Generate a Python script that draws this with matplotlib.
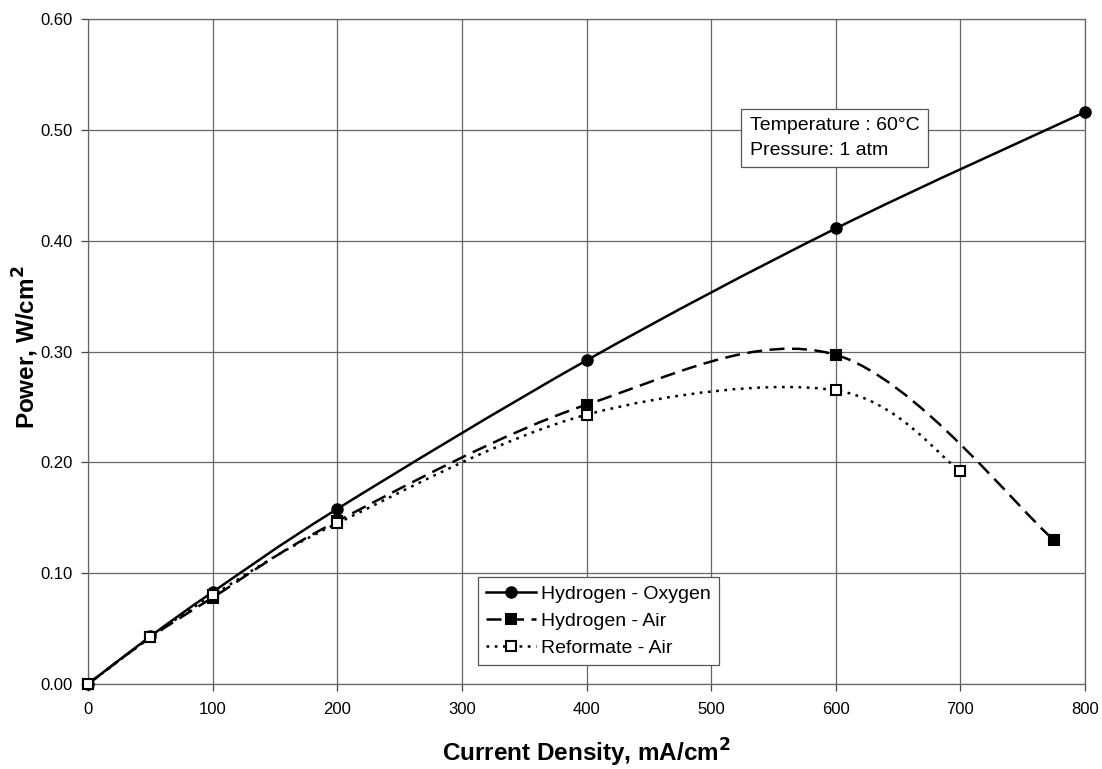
import matplotlib.pyplot as plt
import numpy as np
from matplotlib.path import Path
from matplotlib.patches import PathPatch
from matplotlib.lines import Line2D

plt.rcParams['font.family'] = ['Liberation Sans', 'DejaVu Sans']

# data
h2_o2_x = [0, 50, 100, 200, 400, 600, 800]
h2_o2_y = [0.0, 0.043, 0.083, 0.158, 0.292, 0.411, 0.516]

h2_air_x = [0, 50, 100, 200, 400, 600, 775]
h2_air_y = [0.0, 0.042, 0.078, 0.147, 0.252, 0.297, 0.130]

ref_air_x = [0, 50, 100, 200, 400, 600, 700]
ref_air_y = [0.0, 0.042, 0.080, 0.145, 0.243, 0.265, 0.192]

x_ticks = [0, 100, 200, 300, 400, 500, 600, 700, 800]
y_ticks = [0.0, 0.1, 0.2, 0.3, 0.4, 0.5, 0.6]


def smooth_path(xs, ys):
    # Excel style smoothed line: cubic bezier through the points
    p = np.column_stack([xs, ys]).astype(float)
    verts = [p[0]]
    codes = [Path.MOVETO]
    n = len(p)
    for i in range(n - 1):
        p0 = p[i - 1] if i > 0 else p[i]
        p1 = p[i]
        p2 = p[i + 1]
        p3 = p[i + 2] if i + 2 < n else p[i + 1]
        c1 = p1 + (p2 - p0) / 6.0
        c2 = p2 - (p3 - p1) / 6.0
        verts += [c1, c2, p2]
        codes += [Path.CURVE4] * 3
    return Path(verts, codes)


fig = plt.figure(figsize=(11.02, 7.69), dpi=100)
ax = fig.add_axes([0.0799, 0.1105, 0.9047, 0.8648])

lw = 1.8
series = [
    (h2_o2_x, h2_o2_y, '-', 'o', 'black', 'Hydrogen - Oxygen'),
    (h2_air_x, h2_air_y, (0, (6, 3)), 's', 'black', 'Hydrogen - Air'),
    (ref_air_x, ref_air_y, (0, (1.1, 2.2)), 's', 'white', 'Reformate - Air'),
]

handles = []
for xs, ys, ls, mk, fc, name in series:
    ax.add_patch(PathPatch(smooth_path(xs, ys), fill=False, lw=lw,
                           ls=ls, edgecolor='black', zorder=3))
    ms = 7.5 if mk == 'o' else 7
    ax.plot(xs, ys, ls='none', marker=mk, ms=ms, mfc=fc, mec='black',
            mew=1.5, zorder=4, clip_on=False)
    handles.append(Line2D([], [], ls=ls, lw=lw, color='black', marker=mk,
                          ms=ms, mfc=fc, mec='black', mew=1.5, label=name))

ax.set_xlim(0, 800)
ax.set_ylim(0, 0.6)
ax.set_xticks(x_ticks)
ax.set_yticks(y_ticks)
ax.set_yticklabels([f'{v:.2f}' for v in y_ticks])
ax.grid(True, color='#666666', lw=0.9)
ax.set_axisbelow(True)
for s in ax.spines.values():
    s.set_color('#666666')
    s.set_linewidth(0.9)
ax.tick_params(labelsize=12, length=5, width=0.9, color='#444444', pad=6)
ax.tick_params(axis='x', pad=8)

ax.set_xlabel('Current Density, mA/cm$^{\\mathbf{2}}$', fontsize=17.5,
              fontweight='bold')
ax.set_ylabel('Power, W/cm$^{\\mathbf{2}}$', fontsize=17.5,
              fontweight='bold')
ax.xaxis.set_label_coords(0.5, -0.08)
ax.yaxis.set_label_coords(-0.047, 0.506)

leg = ax.legend(handles=handles, loc='lower left',
                bbox_to_anchor=(0.391, 0.0286), borderaxespad=0,
                fontsize=14, handlelength=2.6, handletextpad=0.25,
                borderpad=0.4, labelspacing=0.5, fancybox=False,
                framealpha=1, edgecolor='#555555')
leg.get_frame().set_linewidth(0.9)

ax.text(0.664, 0.852, 'Temperature : 60°C\nPressure: 1 atm',
        transform=ax.transAxes, fontsize=14, va='top', ha='left',
        linespacing=1.55,
        bbox=dict(boxstyle='square,pad=0.45', fc='white', ec='#555555',
                  lw=0.9))

fig.savefig('out.png', dpi=100)
